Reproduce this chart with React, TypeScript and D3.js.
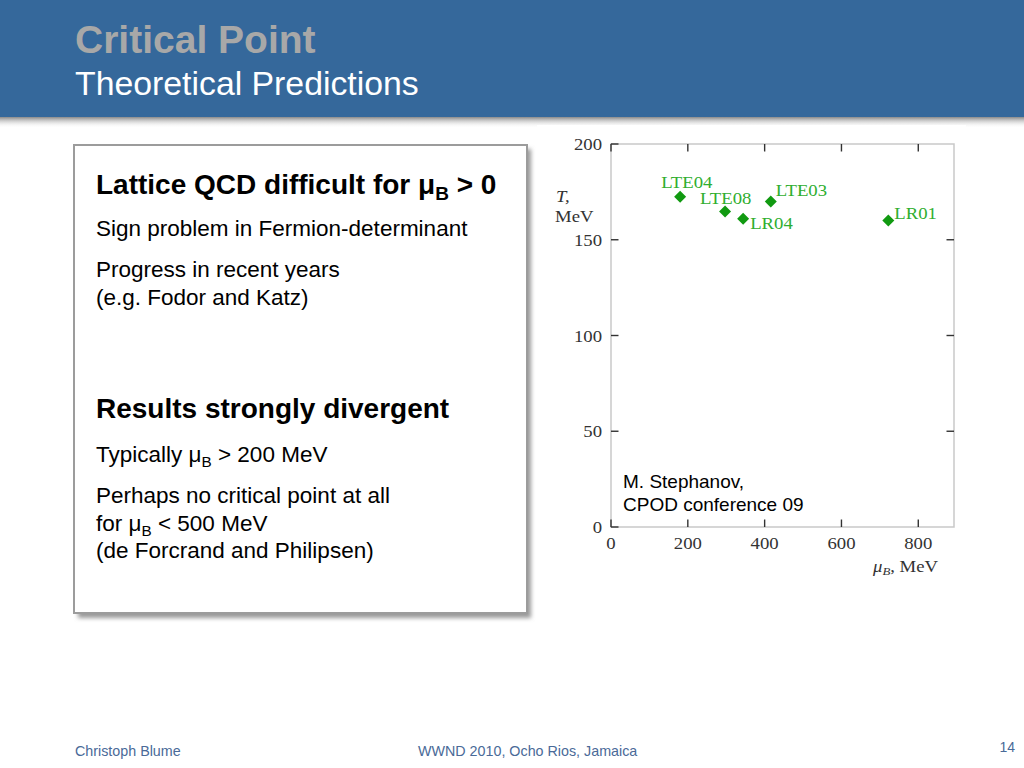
import React from 'react';
import * as d3 from 'd3';

// data (mu_B in MeV, T in MeV)
const pointLabels = ['LTE04', 'LTE08', 'LR04', 'LTE03', 'LR01'];
const muB = [180, 297, 344, 416, 722];
const temps = [172.5, 164.7, 161, 170, 160];
const xTicks = [0, 200, 400, 600, 800];
const yTicks = [0, 50, 100, 150, 200];

// label placement relative to the marker, in px
const labelOffset: Record<string, [number, number]> = {
  LTE04: [-19, -9],
  LTE08: [-25, -8],
  LR04: [7, 10],
  LTE03: [5, -5],
  LR01: [6, -2],
};

const SANS = '"Liberation Sans", Arial, Helvetica, sans-serif';
const SERIF = '"Liberation Serif", "Times New Roman", serif';
const STRETCH = 1.17; // scanned figure text is wider than it is tall

function SText({ x, y, anchor = 'start', size = 16, fill = '#333', italic = false, children }: any) {
  return (
    <text
      transform={`translate(${x},${y}) scale(${STRETCH},1)`}
      textAnchor={anchor}
      fontFamily={SERIF}
      fontSize={size}
      fontStyle={italic ? 'italic' : 'normal'}
      fill={fill}
    >
      {children}
    </text>
  );
}

function Plot() {
  const x = d3.scaleLinear().domain([0, 893]).range([611, 954]);
  const y = d3.scaleLinear().domain([0, 200]).range([527, 144]);
  const [x0, x1] = x.range();
  const [yb, yt] = y.range();
  const tick = 7.5;
  const diamond = d3.symbol().type(d3.symbolSquare).size(72)() as string;
  const frame = '#c9c9c9';
  const dark = '#333';

  return (
    <g>
      <rect x={537} y={125} width={429} height={456} fill="#fff" />
      <rect x={x0} y={yt} width={x1 - x0} height={yb - yt} fill="none" stroke={frame} strokeWidth={1.5} />
      {yTicks.map((t) => (
        <line key={'l' + t} x1={x0} x2={x0 + tick} y1={y(t)} y2={y(t)} stroke={dark} strokeWidth={1.4} />
      ))}
      {yTicks.filter((t) => t > 0 && t < 200).map((t) => (
        <line key={'r' + t} x1={x1 - tick} x2={x1} y1={y(t)} y2={y(t)} stroke={dark} strokeWidth={1.4} />
      ))}
      {xTicks.map((t) => (
        <g key={'x' + t}>
          <line x1={x(t)} x2={x(t)} y1={yt} y2={yt + tick} stroke={dark} strokeWidth={1.4} />
          <line x1={x(t)} x2={x(t)} y1={yb} y2={yb - tick} stroke={dark} strokeWidth={1.4} />
        </g>
      ))}
      {yTicks.map((t) => (
        <SText key={'yl' + t} x={x0 - 9} y={y(t) + 6} anchor="end">
          {t}
        </SText>
      ))}
      {xTicks.map((t) => (
        <SText key={'xl' + t} x={x(t)} y={549} anchor="middle">
          {t}
        </SText>
      ))}
      <SText x={556} y={202} italic>
        T,
      </SText>
      <SText x={555} y={222}>
        MeV
      </SText>
      <text transform={`translate(873,572) scale(${STRETCH},1)`} fontFamily={SERIF} fontSize={16} fill="#333">
        <tspan fontStyle="italic">μ</tspan>
        <tspan fontStyle="italic" fontSize={11} dy={3}>B</tspan>
        <tspan dy={-3}>, MeV</tspan>
      </text>
      {pointLabels.map((lab, i) => {
        const px = x(muB[i]);
        const py = y(temps[i]);
        const [dx, dy] = labelOffset[lab];
        return (
          <g key={lab}>
            <path d={diamond} transform={`translate(${px},${py}) rotate(45)`} fill="#119a11" />
            <SText x={px + dx} y={py + dy} fill="#2fae2f">
              {lab}
            </SText>
          </g>
        );
      })}
      <text x={623} y={488} fontFamily={SANS} fontSize={19} fill="#000">
        M. Stephanov,
      </text>
      <text x={623} y={511} fontFamily={SANS} fontSize={19} fill="#000">
        CPOD conference 09
      </text>
    </g>
  );
}

function Mu({ sub = 'B', size }: { sub?: string; size: number }) {
  return (
    <>
      <tspan>μ</tspan>
      <tspan fontSize={size * 0.68} dy={size * 0.2}>
        {sub}
      </tspan>
      <tspan dy={-size * 0.2}> </tspan>
    </>
  );
}

export default function App() {
  const body = 22.5;
  const head = 28;
  return (
    <svg
      width={1024}
      height={768}
      style={{ position: 'absolute', left: 0, top: 0, background: '#fff' }}
      fontFamily={SANS}
    >
      <defs>
        <linearGradient id="hdrShadow" x1="0" x2="0" y1="0" y2="1">
          <stop offset="0%" stopColor="#8a8a8a" />
          <stop offset="100%" stopColor="#ffffff" stopOpacity={0} />
        </linearGradient>
        <filter id="boxShadow" x="-10%" y="-10%" width="120%" height="120%">
          <feGaussianBlur stdDeviation="2" />
        </filter>
      </defs>

      {/* header band */}
      <rect x={0} y={0} width={1024} height={117} fill="#35689b" />
      <rect x={0} y={117} width={1024} height={11} fill="url(#hdrShadow)" />
      <text x={75} y={53} fontSize={39} fontWeight="bold" fill="#a8a8a8">
        Critical Point
      </text>
      <text x={75} y={95} fontSize={33.8} fill="#fff">
        Theoretical Predictions
      </text>

      {/* text box */}
      <rect x={78} y={149} width={453} height={469} fill="#999" filter="url(#boxShadow)" />
      <rect x={74} y={145} width={453} height={468} fill="#fff" stroke="#9c9c9c" strokeWidth={2} />
      <text x={96} y={194} fontSize={head} fontWeight="bold" fill="#000">
        Lattice QCD difficult for <Mu size={head} />&gt; 0
      </text>
      <text x={96} y={236} fontSize={body} fill="#000">
        Sign problem in Fermion-determinant
      </text>
      <text x={96} y={277} fontSize={body} fill="#000">
        Progress in recent years
      </text>
      <text x={96} y={305} fontSize={body} fill="#000">
        (e.g. Fodor and Katz)
      </text>
      <text x={96} y={418} fontSize={head} fontWeight="bold" fill="#000">
        Results strongly divergent
      </text>
      <text x={96} y={462} fontSize={body} fill="#000">
        Typically <Mu size={body} />&gt; 200 MeV
      </text>
      <text x={96} y={503} fontSize={body} fill="#000">
        Perhaps no critical point at all
      </text>
      <text x={96} y={531} fontSize={body} fill="#000">
        for <Mu size={body} />&lt; 500 MeV
      </text>
      <text x={96} y={558} fontSize={body} fill="#000">
        (de Forcrand and Philipsen)
      </text>

      <Plot />

      {/* footer */}
      <text x={75} y={756} fontSize={14.3} fill="#4a6a98">
        Christoph Blume
      </text>
      <text x={418} y={756} fontSize={14.3} fill="#4a6a98">
        WWND 2010, Ocho Rios, Jamaica
      </text>
      <text x={1015} y={752} fontSize={14} fill="#4a6a98" textAnchor="end">
        14
      </text>
    </svg>
  );
}
